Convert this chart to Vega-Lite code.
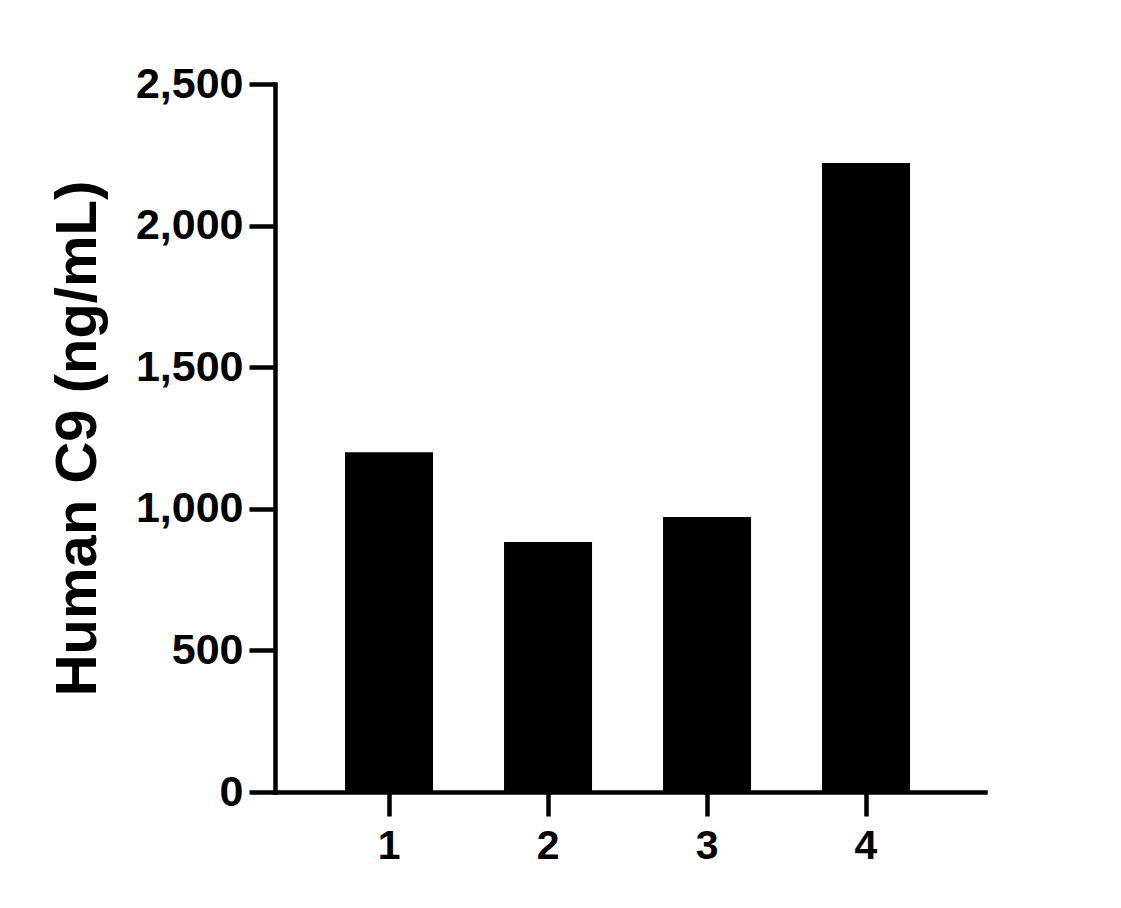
{
  "$schema": "https://vega.github.io/schema/vega-lite/v6.json",
  "autosize": "none",
  "width": 710,
  "height": 708,
  "padding": {"left": 275, "top": 84, "right": 136, "bottom": 116},
  "background": "white",
  "config": {"view": {"stroke": null}, "font": "Liberation Sans"},
  "data": {"values": [
    {"group": "1", "value": 1200},
    {"group": "2", "value": 883},
    {"group": "3", "value": 971},
    {"group": "4", "value": 2221}
  ]},
  "mark": {"type": "bar", "color": "black"},
  "encoding": {
    "x": {
      "field": "group", "type": "nominal", "sort": null,
      "scale": {"paddingInner": 0.4465, "paddingOuter": 0.456, "align": 0.483},
      "axis": {
        "title": null, "labelAngle": 0,
        "domainColor": "black", "domainWidth": 4.5, "domainCap": "square",
        "tickColor": "black", "tickWidth": 4.5, "tickSize": 24,
        "labelFont": "Liberation Sans", "labelFontWeight": "bold", "labelFontSize": 41,
        "labelColor": "black", "labelPadding": 10
      }
    },
    "y": {
      "field": "value", "type": "quantitative",
      "scale": {"domain": [0, 2500], "nice": false},
      "axis": {
        "title": "Human C9 (ng/mL)",
        "values": [0, 500, 1000, 1500, 2000, 2500], "format": ",.0f",
        "grid": false,
        "domainColor": "black", "domainWidth": 4.5, "domainCap": "square",
        "tickColor": "black", "tickWidth": 4.5, "tickSize": 26,
        "labelFont": "Liberation Sans", "labelFontWeight": "bold", "labelFontSize": 43,
        "labelColor": "black", "labelPadding": 6,
        "titleFont": "Liberation Sans", "titleFontWeight": "bold", "titleFontSize": 58,
        "titleColor": "black", "titleX": -180, "titleBaseline": "alphabetic"
      }
    }
  }
}
